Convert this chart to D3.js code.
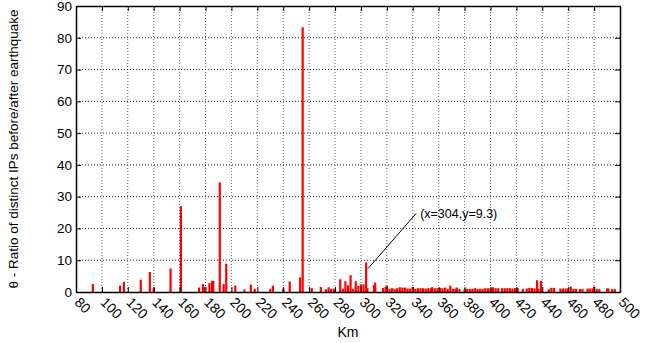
<!DOCTYPE html>
<html>
<head>
<meta charset="utf-8">
<script src="https://cdn.jsdelivr.net/npm/d3@7"></script>
<style>
  body { margin: 0; background: #fff; }
  text { font-family: "Liberation Sans", Arial, sans-serif; }
</style>
</head>
<body>
<div id="chart"></div>
<script>
// distance (km) and ratio values
const distKm = [
  93, 114, 117, 130, 137, 140, 153, 161,
  175, 178, 179, 183, 185, 186, 191, 194, 196, 203,
  210, 215, 218, 230, 232, 240, 245, 253, 255,
  262, 269, 273, 275, 277, 279, 284, 286, 288, 290, 292, 294, 296, 298,
  300, 302, 304, 305, 310, 311,
  317, 319, 320, 322, 324, 326, 328, 330, 332, 334, 336, 338, 340, 342,
  344, 346, 348, 350, 352, 354, 355, 357, 359, 361, 363, 365, 367, 369,
  371, 373, 374, 376, 380, 382, 384, 386, 388, 390, 392, 394, 396, 398,
  400, 402, 404, 406, 409, 411, 413, 415, 417, 419, 421, 425, 428, 430,
  432, 434, 436, 437, 439, 445, 447, 449, 454, 456, 458, 460, 462, 464,
  466, 469, 471, 475, 477, 479, 480, 482, 484, 490, 491, 494, 496
];
const ratio = [
  2.5, 2.0, 3.2, 3.9, 6.3, 1.4, 7.4, 27.0,
  1.4, 2.5, 1.6, 2.8, 3.5, 3.5, 34.5, 2.5, 8.9, 2.0,
  0.8, 2.3, 1.0, 1.0, 2.0, 1.0, 3.3, 4.6, 83.3,
  1.2, 1.6, 0.9, 1.5, 1.0, 1.0, 4.0, 1.0, 3.4, 2.1, 5.3, 1.0, 3.4, 1.9,
  2.4, 2.4, 9.3, 1.2, 2.2, 3.0,
  1.3, 1.6, 2.0, 1.0, 1.2, 1.0, 1.2, 1.5, 1.4, 1.4, 1.1, 1.1, 1.6, 1.0,
  1.2, 1.2, 1.2, 1.1, 1.2, 1.2, 1.5, 1.2, 1.2, 1.3, 1.2, 1.4, 1.0, 2.0,
  1.0, 1.0, 1.4, 1.0, 0.9, 1.0, 1.0, 1.0, 1.2, 1.0, 1.0, 1.0, 1.2, 1.2,
  1.2, 1.5, 1.2, 1.2, 1.2, 1.2, 1.2, 1.2, 1.1, 1.2, 1.3, 1.0, 1.1, 1.3,
  1.3, 1.1, 3.7, 1.0, 3.5, 0.9, 1.3, 1.3, 1.1, 1.1, 1.1, 1.2, 1.7, 1.0,
  1.0, 1.0, 1.0, 1.1, 1.1, 1.1, 1.7, 1.0, 0.9, 1.1, 1.1, 0.9, 0.9
];
const xTicks = d3.range(80, 501, 20);
const yTicks = d3.range(0, 91, 10);
const note = { x: 304, y: 9.3, label: "(x=304,y=9.3)" };

const width = 664, height = 343;
const marginLeft = 76, marginRight = 44, marginTop = 6, marginBottom = 51;

const x = d3.scaleLinear().domain([80, 500]).range([marginLeft, width - marginRight]);
const y = d3.scaleLinear().domain([0, 90]).range([height - marginBottom, marginTop]);

const svg = d3.select("#chart").append("svg")
    .attr("width", width)
    .attr("height", height);

// grid
svg.append("g")
  .selectAll("line")
  .data(xTicks.slice(1, -1))
  .join("line")
    .attr("x1", d => x(d)).attr("x2", d => x(d))
    .attr("y1", y(0)).attr("y2", y(90))
    .attr("stroke", "#666")
    .attr("stroke-dasharray", "1,2");
svg.append("g")
  .selectAll("line")
  .data(yTicks.slice(1, -1))
  .join("line")
    .attr("x1", x(80)).attr("x2", x(500))
    .attr("y1", d => y(d)).attr("y2", d => y(d))
    .attr("stroke", "#222")
    .attr("stroke-dasharray", "1,2");

// bars
const bars = distKm.map((d, i) => ({ km: d, v: ratio[i] }));
svg.append("g")
  .selectAll("rect")
  .data(bars)
  .join("rect")
    .attr("x", d => x(d.km) - 1.1)
    .attr("width", 2.2)
    .attr("y", d => y(d.v))
    .attr("height", d => y(0) - y(d.v))
    .attr("fill", "#ff0000");

// axes, ticks pointing inward
const gx = svg.append("g")
    .attr("transform", `translate(0,${y(0)})`)
    .call(d3.axisBottom(x).tickValues(xTicks).tickSizeInner(-5).tickSizeOuter(0).tickFormat(d3.format("d")));
gx.selectAll("text")
    .attr("font-size", 14)
    .attr("text-anchor", "start")
    .attr("transform", "rotate(45)")
    .attr("x", 6).attr("y", 5).attr("dy", "0.35em");

const gy = svg.append("g")
    .attr("transform", `translate(${x(80)},0)`)
    .call(d3.axisLeft(y).tickValues(yTicks).tickSizeInner(-5).tickSizeOuter(0));
gy.selectAll("text").attr("font-size", 13.5).attr("x", -4);

svg.append("g")
    .attr("transform", `translate(${x(500)},0)`)
    .call(d3.axisRight(y).tickValues(yTicks).tickSizeInner(-5).tickSizeOuter(0).tickFormat(""));
svg.append("g")
    .attr("transform", `translate(0,${y(90)})`)
    .call(d3.axisTop(x).tickValues(xTicks).tickSizeInner(-5).tickSizeOuter(0).tickFormat(""));

svg.selectAll(".domain").attr("stroke", "#000").attr("stroke-width", 1.5);

// annotation
svg.append("line")
    .attr("x1", x(note.x) + 2).attr("y1", y(note.y) + 6)
    .attr("x2", x(note.x) + 50).attr("y2", y(note.y) - 49)
    .attr("stroke", "#000");
svg.append("text")
    .attr("x", x(note.x) + 54).attr("y", y(note.y) - 49)
    .attr("dy", "0.35em")
    .attr("font-size", 12.5)
    .text(note.label);

// axis titles
svg.append("text")
    .attr("x", (x(80) + x(500)) / 2)
    .attr("y", 337)
    .attr("text-anchor", "middle")
    .attr("font-size", 14)
    .text("Km");
svg.append("text")
    .attr("transform", `translate(18,${(y(0) + y(90)) / 2}) rotate(-90)`)
    .attr("text-anchor", "middle")
    .attr("font-size", 13.5)
    .text("θ - Ratio of distinct IPs before/after earthquake");
</script>
</body>
</html>
